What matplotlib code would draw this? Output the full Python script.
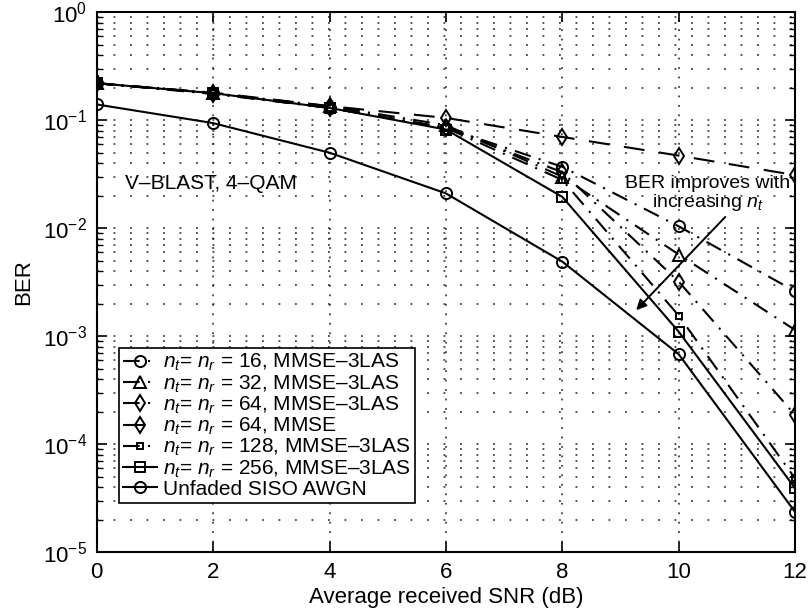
import matplotlib
matplotlib.use("Agg")
import matplotlib.pyplot as plt
import numpy as np

plt.rcParams['font.family'] = ['Liberation Sans', 'DejaVu Sans']
plt.rcParams['mathtext.fontset'] = 'custom'
plt.rcParams['mathtext.rm'] = 'Liberation Sans'
plt.rcParams['mathtext.it'] = 'Liberation Sans:italic'
plt.rcParams['mathtext.default'] = 'regular'

snr_db = [0, 2, 4, 6, 8, 10, 12]

ber_16_las = [0.22, 0.178, 0.13, 0.085, 0.037, 0.0104, 0.0026]
ber_32_las = [0.22, 0.178, 0.135, 0.09, 0.030, 0.0057, 0.00114]
ber_64_las = [0.22, 0.175, 0.13, 0.085, 0.033, 0.0032, 1.86e-4]
ber_64_mmse = [0.22, 0.18, 0.135, 0.105, 0.070, 0.047, 0.031]
ber_128_las = [0.22, 0.178, 0.13, 0.085, 0.028, 0.00155, 4.8e-5]
ber_256_las = [0.22, 0.178, 0.13, 0.082, 0.0195, 0.0011, 3.9e-5]
ber_awgn = [0.14, 0.094, 0.050, 0.021, 0.0049, 6.8e-4, 2.35e-5]

labels = [
    r'$\it{n_t}$= $\it{n_r}$ = 16, MMSE–3LAS',
    r'$\it{n_t}$= $\it{n_r}$ = 32, MMSE–3LAS',
    r'$\it{n_t}$= $\it{n_r}$ = 64, MMSE–3LAS',
    r'$\it{n_t}$= $\it{n_r}$ = 64, MMSE',
    r'$\it{n_t}$= $\it{n_r}$ = 128, MMSE–3LAS',
    r'$\it{n_t}$= $\it{n_r}$ = 256, MMSE–3LAS',
    'Unfaded SISO AWGN',
]

fig = plt.figure(figsize=(8.08, 6.12), dpi=100)
ax = fig.add_axes([0.1197, 0.098, 0.8643, 0.882])

dashdot = (0, (8, 4, 1, 4))
dashed = (0, (10, 7))
style = dict(color='black', lw=1.5, mfc='none', mec='black', mew=1.4)

ax.semilogy(snr_db, ber_16_las, marker='o', ms=8, ls=dashdot, label=labels[0], **style)
ax.semilogy(snr_db, ber_32_las, marker='^', ms=8, ls=dashdot, label=labels[1], **style)
ax.semilogy(snr_db, ber_64_las, marker='d', ms=8, ls=dashdot, label=labels[2], **style)
ax.semilogy(snr_db, ber_64_mmse, marker='d', ms=8, ls=dashed, label=labels[3], **style)
ax.semilogy(snr_db, ber_128_las, marker='s', ms=5, ls=dashdot, label=labels[4], **style)
ax.semilogy(snr_db, ber_256_las, marker='s', ms=7, ls='-', label=labels[5], **style)
ax.semilogy(snr_db, ber_awgn, marker='o', ms=8, ls='-', label=labels[6], **style)

ax.set_xlim(0, 12)
ax.set_ylim(1e-5, 1)
ax.set_xticks(snr_db)

# sparse dotted grid, matlab style
dots = (0, (1.2, 9.6))
for xv in snr_db[1:-1]:
    ax.axvline(xv, color='#222222', lw=1.1, ls=(0, (1.2, 5)), zorder=0)
for dec in range(-5, 0):
    for m in range(1, 10):
        yv = m * 10.0 ** dec
        if yv > 1e-5:
            ax.axhline(yv, color='#222222', lw=1.1, ls=dots, zorder=0)

ax.tick_params(which='both', direction='in', top=True, right=True, labelsize=16)
ax.tick_params(which='major', length=7, width=1.2, pad=7)
ax.tick_params(which='minor', length=4, width=1.0)
ax.xaxis.set_minor_locator(matplotlib.ticker.NullLocator())
for sp in ax.spines.values():
    sp.set_linewidth(1.5)

ax.set_xlabel('Average received SNR (dB)', fontsize=16, labelpad=3)
ax.set_ylabel('BER', fontsize=16, labelpad=6)

ax.text(0.49, 0.026, 'V–BLAST, 4–QAM', fontsize=15, va='center', ha='left')
ax.text(10.5, 0.0205, 'BER improves with\nincreasing $\\it{n_t}$', fontsize=14,
        ha='center', va='center', linespacing=1.0)
ax.annotate('', xy=(9.27, 0.00174), xytext=(10.8, 0.0127),
            arrowprops=dict(arrowstyle='-|>', color='black', lw=1.4,
                            shrinkA=0, shrinkB=0, mutation_scale=15))

leg = ax.legend(loc='lower left', bbox_to_anchor=(0.032, 0.091), fontsize=15,
                frameon=True, fancybox=False, edgecolor='black', framealpha=1,
                handlelength=1.6, handletextpad=0.3, labelspacing=0.0,
                borderpad=0.2, borderaxespad=0)
leg.get_frame().set_linewidth(1.2)

fig.savefig('out.png', dpi=100)
